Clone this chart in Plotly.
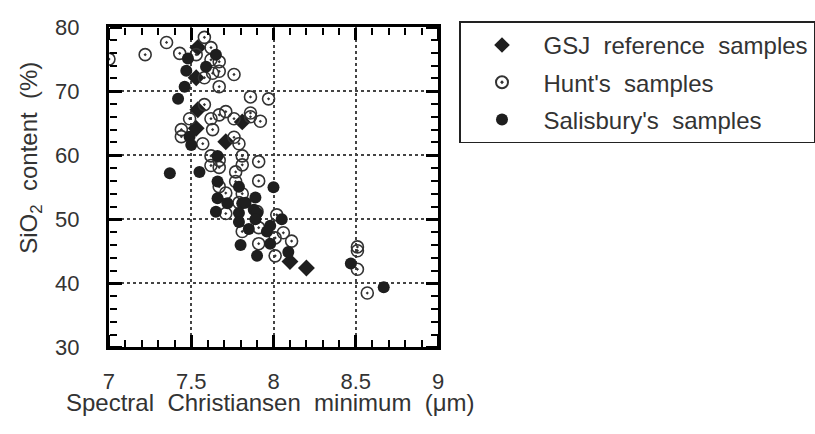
import plotly.graph_objects as go

# ---- data ----
gsj_x = [7.54, 7.53, 7.54, 7.53, 7.71, 7.81, 8.10, 8.20]
gsj_y = [76.8, 72.1, 67.1, 64.2, 62.1, 65.2, 43.4, 42.4]

hunt_x = [7.00, 7.22, 7.35, 7.43, 7.53, 7.58, 7.62, 7.62, 7.67, 7.67, 7.63, 7.58, 7.76, 7.67,
          7.86, 7.97, 7.58, 7.67, 7.71, 7.62, 7.76, 7.86, 7.86, 7.92, 7.63, 7.49, 7.44, 7.44,
          7.57, 7.76, 7.79, 7.62, 7.62, 7.67, 7.67, 7.81, 7.81, 7.91, 7.77, 7.77, 7.67, 7.91,
          7.71, 7.81, 7.79, 7.71, 7.90, 8.02, 7.91, 7.81, 8.06, 8.01, 8.11, 7.91, 8.01, 8.51,
          8.51, 8.51, 8.57]
hunt_y = [75.0, 75.7, 77.6, 75.9, 75.7, 78.4, 76.8, 74.9, 74.6, 73.1, 72.8, 72.1, 72.6, 70.7,
          69.1, 68.8, 67.9, 66.3, 66.8, 65.7, 65.7, 66.6, 66.0, 65.3, 64.0, 65.7, 64.0, 62.9,
          61.8, 62.8, 61.8, 59.9, 58.4, 59.2, 58.1, 59.9, 58.5, 59.0, 57.4, 55.9, 55.1, 56.0,
          54.1, 54.0, 52.6, 50.9, 51.2, 50.7, 48.7, 48.1, 47.9, 47.1, 46.6, 46.2, 44.3, 45.7,
          45.1, 42.2, 38.5]

sal_x = [7.48, 7.65, 7.59, 7.47, 7.46, 7.42, 7.49, 7.50, 7.37, 7.55, 7.66, 7.66, 7.79, 8.00,
         7.66, 7.72, 7.81, 7.83, 7.89, 7.65, 7.79, 7.88, 7.90, 7.89, 8.05, 7.79, 7.85, 7.98,
         7.96, 7.80, 7.98, 7.90, 8.09, 8.47, 8.67]
sal_y = [75.1, 75.7, 73.8, 73.2, 70.7, 68.8, 62.9, 61.6, 57.2, 57.4, 59.9, 55.9, 55.1, 55.0,
         53.3, 52.5, 52.5, 52.6, 53.4, 51.2, 51.0, 51.5, 51.0, 50.0, 50.0, 49.6, 48.5, 49.0,
         48.1, 46.0, 46.2, 44.3, 44.9, 43.1, 39.4]

x_range, x_step, x_minor = [7, 9], 0.5, 0.1
y_range, y_step, y_minor = [30, 80], 10, 2

W, H = 815, 434
FONT = "Liberation Sans, Arial, sans-serif"
INK = "#1e1e1e"
TXT = "#333"

XDOM = [104.5 / W, 438.5 / W]
YDOM = [1 - 356 / H, 1 - 16 / H]

fig = go.Figure()
fig.add_trace(go.Scatter(x=gsj_x, y=gsj_y, mode="markers", name="GSJ  reference  samples",
                         legendgroup="a",
                         marker=dict(symbol="diamond", size=13, color=INK, line=dict(width=0))))
fig.add_trace(go.Scatter(x=hunt_x, y=hunt_y, mode="markers", name="Hunt's  samples",
                         legendgroup="b",
                         marker=dict(symbol="circle-open-dot", size=12, color="#333",
                                     line=dict(width=1.6, color="#333"))))
fig.add_trace(go.Scatter(x=sal_x, y=sal_y, mode="markers", name="Salisbury's  samples",
                         legendgroup="c",
                         marker=dict(symbol="circle", size=12, color=INK, line=dict(width=0))))

# empty helper traces so the tick-only overlay axes get drawn
for xa, ya in [("x2", "y"), ("x3", "y"), ("x", "y2"), ("x", "y3")]:
    fig.add_trace(go.Scatter(x=[], y=[], xaxis=xa, yaxis=ya, mode="markers",
                             showlegend=False, hoverinfo="skip"))

axis_common = dict(
    tickmode="linear",
    showline=True, linecolor="black", linewidth=3, mirror=True,
    ticks="inside", ticklen=12, tickwidth=2.5, tickcolor="black",
    showgrid=True, gridcolor="#444", griddash="dot", gridwidth=1.5,
    zeroline=False, tickfont=dict(family=FONT, size=22, color=TXT),
)

fig.update_layout(
    xaxis=dict(range=x_range, tick0=x_range[0], dtick=x_step, domain=XDOM,
               ticklabelstandoff=12, **axis_common),
    yaxis=dict(range=y_range, tick0=y_range[0], dtick=y_step, domain=YDOM,
               ticklabelstandoff=22, **axis_common),
)

# tick-only overlay axes: "outside" ticks placed so that they point into the frame
tick_only = dict(tickmode="linear", ticks="outside", ticklen=12, tickwidth=2.5,
                 tickcolor="black", showticklabels=False, showgrid=False,
                 showline=False, zeroline=False, anchor="free")
fig.update_layout(
    xaxis2=dict(overlaying="x", side="top", position=YDOM[0], range=x_range,
                tick0=x_range[0], dtick=x_step, domain=XDOM,
                minor=dict(dtick=x_minor, ticks="outside", ticklen=7, tickwidth=2,
                           tickcolor="black", showgrid=False), **tick_only),
    xaxis3=dict(overlaying="x", side="bottom", position=YDOM[1], range=x_range,
                tick0=x_range[0], dtick=x_step, domain=XDOM,
                minor=dict(dtick=x_minor, ticks="outside", ticklen=7, tickwidth=2,
                           tickcolor="black", showgrid=False), **tick_only),
    yaxis2=dict(overlaying="y", side="right", position=XDOM[0], range=y_range,
                tick0=y_range[0], dtick=y_step, domain=YDOM,
                minor=dict(dtick=y_minor, ticks="outside", ticklen=7, tickwidth=2,
                           tickcolor="black", showgrid=False), **tick_only),
    yaxis3=dict(overlaying="y", side="left", position=XDOM[1], range=y_range,
                tick0=y_range[0], dtick=y_step, domain=YDOM,
                minor=dict(dtick=y_minor, ticks="outside", ticklen=7, tickwidth=2,
                           tickcolor="black", showgrid=False), **tick_only),
)

fig.add_annotation(text="Spectral  Christiansen  minimum  (\u03bcm)",
                   xref="paper", yref="paper", x=268 / W, y=1 - 414 / H,
                   xanchor="center", yanchor="middle", showarrow=False,
                   font=dict(family=FONT, size=24, color=TXT))
fig.add_annotation(text="SiO<sub>2</sub>  content  (%)", textangle=-90,
                   xref="paper", yref="paper", x=24 / W, y=1 - 155 / H,
                   xanchor="center", yanchor="middle", showarrow=False,
                   font=dict(family=FONT, size=24, color=TXT))

fig.update_layout(
    template="simple_white",
    width=W, height=H,
    margin=dict(l=0, r=0, t=0, b=0),
    paper_bgcolor="white", plot_bgcolor="white",
    showlegend=True,
    legend=dict(x=460 / W, y=1 - 10 / H, xanchor="left", yanchor="top",
                bordercolor="#222", borderwidth=1.5, bgcolor="white",
                font=dict(family=FONT, size=24, color=TXT),
                itemwidth=73, tracegroupgap=3, traceorder="grouped",
                itemsizing="constant"),
)

fig.write_html("out.html")
